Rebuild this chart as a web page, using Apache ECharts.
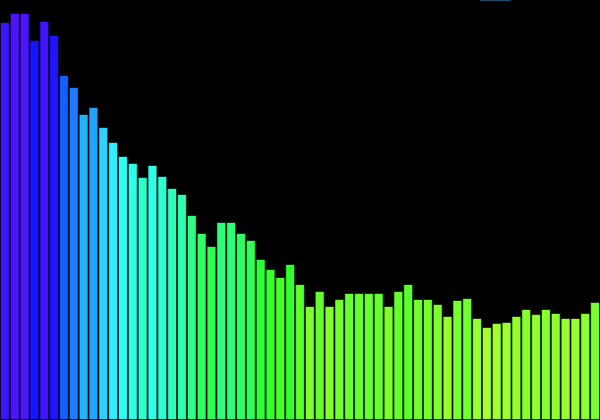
<!DOCTYPE html>
<html>
<head>
<meta charset="utf-8">
<script src="https://cdn.jsdelivr.net/npm/echarts@6/dist/echarts.min.js"></script>
<style>
  html, body { margin: 0; padding: 0; background: #000; }
  #main { width: 600px; height: 420px; }
</style>
</head>
<body>
<div id="main"></div>
<script>
// 柱子数据（从图上读出的高度）
var categories = [];
for (var i = 0; i < 61; i++) { categories.push('c' + i); }

var values = [
    398, 407, 407, 380, 399, 385, 345, 333, 306, 313,
    293, 278, 264, 257, 243, 255, 244, 232, 226, 205,
    187, 174, 198, 198, 187, 180, 161, 151, 143, 156,
    136, 114, 129, 114, 121, 127, 127, 127, 127, 114,
    129, 136, 121, 121, 116, 104, 120, 122, 102, 93,
    97, 98, 104, 111, 106, 111, 107, 102, 102, 107,
    118
];

// 颜色: 低值黄绿 -> 高值蓝紫，按色相插值
function hslHex(h, s, l) {
    var c = (1 - Math.abs(2 * l - 1)) * s;
    var hp = h / 60;
    var x = c * (1 - Math.abs(hp % 2 - 1));
    var r = 0, g = 0, b = 0;
    if (hp < 1) { r = c; g = x; }
    else if (hp < 2) { r = x; g = c; }
    else if (hp < 3) { g = c; b = x; }
    else if (hp < 4) { g = x; b = c; }
    else if (hp < 5) { r = x; b = c; }
    else { r = c; b = x; }
    var m = l - c / 2;
    function hex(v) {
        var s = Math.round((v + m) * 255).toString(16);
        return s.length < 2 ? '0' + s : s;
    }
    return '#' + hex(r) + hex(g) + hex(b);
}

var colorStops = [];
for (var h = 85; h <= 255; h += 5) {
    var l = h > 215 ? 0.54 : (h > 195 ? 0.56 : 0.59);
    colorStops.push(hslHex(h, 1, l));
}

var myChart = echarts.init(document.getElementById('main'));
var option = {
    backgroundColor: '#000',
    animation: false,
    grid: { left: 0, top: 0, width: 604, height: 420, containLabel: false },
    xAxis: {
        type: 'category',
        data: categories,
        show: false
    },
    yAxis: {
        type: 'value',
        min: 0,
        max: 420,
        show: false
    },
    visualMap: {
        show: false,
        type: 'continuous',
        min: 93,
        max: 407,
        dimension: 1,
        inRange: { color: colorStops }
    },
    graphic: [{
        type: 'rect',
        shape: { x: 480, y: -1, width: 31, height: 2 },
        style: { fill: '#1e4868' }
    }],
    series: [{
        type: 'bar',
        data: values,
        barCategoryGap: '0%',
        itemStyle: {
            borderColor: 'rgba(0,0,0,0.6)',
            borderWidth: 1
        }
    }]
};
myChart.setOption(option);
</script>
</body>
</html>
